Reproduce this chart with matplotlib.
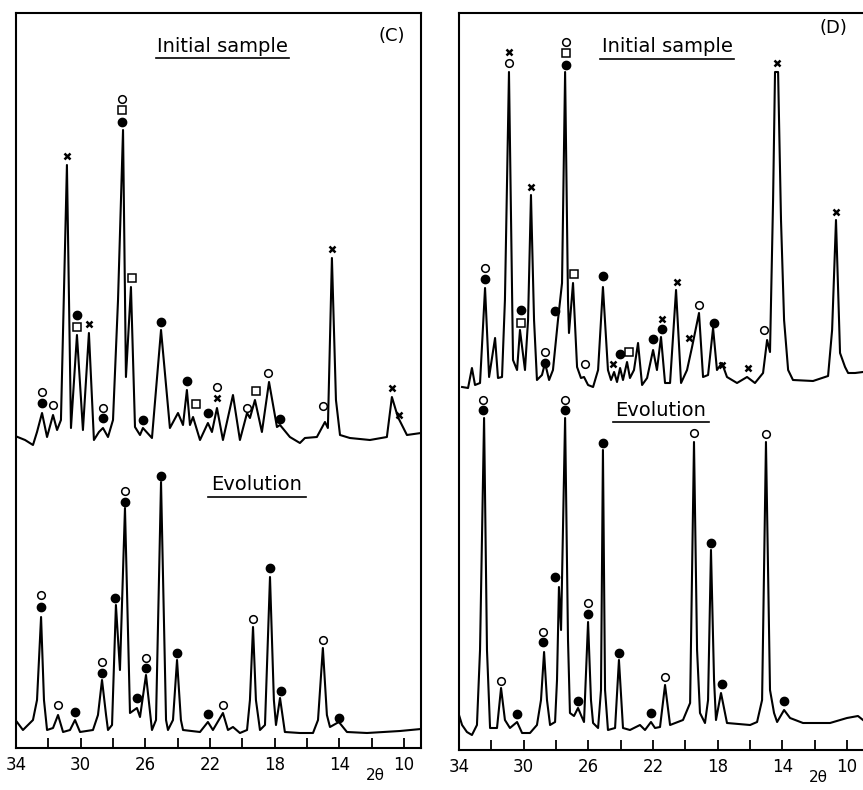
import matplotlib.pyplot as plt
from matplotlib.lines import Line2D

# 2-theta (deg) and intensity (arb. units, height above the frame bottom)

# (C) initial sample
c_init_tt = [33.9, 33.44, 32.95, 32.70, 32.39, 32.08, 31.71, 31.46, 31.22, 30.85, 30.60, 30.23,
             29.86, 29.49, 29.18, 28.87, 28.62, 28.31, 28.00, 27.69, 27.38, 27.20, 26.89, 26.64,
             26.33, 26.15, 25.59, 25.03, 24.48, 23.98, 23.67, 23.43, 23.24, 23.05, 22.62, 22.13,
             21.88, 21.57, 21.20, 20.58, 20.15, 19.71, 19.53, 19.22, 18.79, 18.35, 17.86, 17.67,
             17.06, 16.44, 16.13, 15.39, 14.89, 14.71, 14.46, 14.21, 13.96, 13.35, 12.11, 11.06,
             10.75, 10.38, 9.82, 8.95]
c_init_i = [311, 308, 303, 316, 335, 311, 333, 318, 328, 583, 320, 413,
            318, 415, 308, 316, 320, 311, 328, 448, 618, 371, 461, 321,
            313, 320, 310, 418, 320, 335, 323, 358, 323, 331, 308, 325,
            316, 340, 308, 353, 308, 335, 330, 348, 316, 366, 321, 323,
            311, 305, 310, 311, 326, 320, 490, 348, 313, 310, 308, 311,
            351, 331, 313, 315]
c_init_filled = [(32.39, 345), (30.23, 433), (28.62, 330), (27.45, 626), (26.15, 328), (25.03, 426),
                 (23.43, 367), (22.13, 335), (17.67, 329)]
c_init_open = [(32.39, 356), (31.71, 343), (28.62, 340), (27.45, 649), (21.57, 361), (19.71, 340),
               (18.42, 375), (15.02, 342)]
c_init_square = [(30.23, 421), (27.45, 638), (26.83, 470), (22.87, 344), (19.16, 357)]
c_init_cross = [(30.85, 592), (29.49, 424), (21.57, 350), (14.46, 499), (10.75, 360), (10.32, 333)]

# (C) evolution
c_evol_tt = [33.94, 33.57, 32.95, 32.70, 32.45, 32.27, 32.08, 31.71, 31.40, 31.09, 30.66, 30.35,
             30.04, 29.24, 28.93, 28.68, 28.43, 28.31, 28.06, 27.82, 27.57, 27.26, 26.95, 26.52,
             26.33, 25.96, 25.59, 25.34, 25.03, 24.72, 24.60, 24.29, 24.04, 23.80, 23.67, 22.62,
             22.13, 21.82, 21.20, 20.89, 20.58, 20.15, 19.71, 19.53, 19.34, 19.16, 18.91, 18.60,
             18.29, 18.05, 17.92, 17.67, 17.37, 16.44, 15.63, 15.32, 15.02, 14.77, 14.58, 14.03,
             13.53, 12.29, 10.25, 8.95]
c_evol_i = [26, 18, 28, 48, 131, 48, 18, 20, 33, 16, 18, 28,
            16, 18, 33, 68, 33, 18, 23, 143, 78, 240, 35, 40,
            31, 73, 18, 28, 266, 28, 18, 28, 88, 28, 18, 16,
            26, 18, 35, 18, 21, 15, 18, 48, 121, 48, 18, 23,
            171, 48, 23, 50, 16, 15, 15, 28, 100, 33, 21, 26,
            16, 15, 17, 19]
c_evol_filled = [(32.45, 141), (30.35, 36), (28.68, 75), (27.88, 150), (27.26, 246), (26.52, 50),
                 (25.96, 80), (25.03, 272), (24.04, 95), (22.13, 34), (18.29, 180), (17.61, 57),
                 (14.03, 30)]
c_evol_open = [(32.45, 153), (31.40, 43), (28.68, 86), (27.26, 257), (25.96, 90), (21.20, 43),
               (19.34, 129), (15.02, 108)]

# (D) initial sample
d_init_tt = [33.81, 33.44, 33.20, 33.01, 32.70, 32.39, 32.14, 31.77, 31.59, 31.34, 31.16, 30.91,
             30.66, 30.41, 30.23, 29.92, 29.73, 29.55, 29.36, 29.18, 28.87, 28.68, 28.43, 28.19,
             27.88, 27.63, 27.44, 27.26, 27.20, 26.95, 26.70, 26.46, 26.27, 26.02, 25.71, 25.40,
             25.10, 24.79, 24.60, 24.41, 24.23, 24.04, 23.86, 23.61, 23.43, 23.18, 22.93, 22.68,
             22.37, 22.00, 21.76, 21.51, 21.26, 20.95, 20.58, 20.27, 19.90, 19.59, 19.16, 18.91,
             18.60, 18.29, 18.05, 17.74, 17.43, 16.81, 16.19, 15.70, 15.20, 14.95, 14.77, 14.58,
             14.46, 14.27, 14.09, 13.90, 13.65, 13.35, 12.11, 11.18, 10.93, 10.69, 10.44, 10.13,
             9.94, 9.51, 9.02]
d_init_i = [363, 362, 382, 365, 367, 462, 373, 412, 372, 373, 450, 678,
            390, 380, 420, 380, 430, 555, 430, 370, 375, 387, 370, 380,
            430, 467, 678, 450, 417, 467, 383, 372, 373, 365, 363, 380,
            463, 380, 370, 378, 368, 382, 370, 388, 372, 380, 407, 365,
            372, 400, 380, 413, 367, 367, 460, 367, 380, 403, 437, 373,
            375, 422, 380, 387, 373, 367, 373, 367, 377, 410, 398, 550,
            678, 678, 530, 430, 380, 370, 369, 374, 420, 530, 397, 383,
            377, 377, 378]
d_init_filled = [(32.39, 471), (30.17, 440), (28.68, 387), (28.06, 439), (27.38, 685), (25.10, 474),
                 (24.04, 396), (22.00, 411), (21.45, 421), (18.23, 427)]
d_init_open = [(32.39, 482), (30.91, 687), (28.68, 398), (27.38, 708), (26.21, 386), (19.16, 445),
               (15.14, 420)]
d_init_square = [(30.17, 427), (27.38, 697), (26.89, 476), (23.49, 398)]
d_init_cross = [(30.91, 698), (29.55, 563), (24.48, 386), (21.45, 431), (20.52, 468), (19.78, 412),
                (17.74, 385), (16.13, 382), (14.33, 687), (10.69, 538)]

# (D) evolution
d_evol_tt = [34.0, 33.81, 33.51, 33.20, 32.89, 32.70, 32.45, 32.27, 32.08, 31.65, 31.40, 31.16,
             30.85, 30.41, 30.10, 29.61, 29.18, 28.93, 28.74, 28.56, 28.37, 28.06, 27.94, 27.82,
             27.69, 27.44, 27.26, 27.14, 26.89, 26.64, 26.46, 26.27, 26.02, 25.84, 25.71, 25.40,
             25.22, 25.10, 24.97, 24.79, 24.35, 24.11, 23.86, 23.43, 22.81, 22.50, 22.13, 21.88,
             21.57, 21.26, 20.95, 20.15, 19.71, 19.47, 19.28, 19.10, 18.79, 18.60, 18.42, 18.23,
             18.11, 17.80, 17.43, 16.00, 15.57, 15.26, 15.02, 14.77, 14.52, 14.33, 13.90, 13.53,
             12.73, 11.06, 10.01, 9.33, 9.02]
d_evol_i = [35, 25, 18, 15, 25, 100, 332, 100, 22, 22, 62, 30,
            22, 28, 17, 17, 25, 50, 98, 50, 25, 28, 70, 163,
            120, 332, 110, 37, 34, 42, 35, 28, 128, 50, 27, 22,
            60, 300, 60, 20, 22, 90, 22, 20, 25, 20, 28, 22,
            23, 65, 25, 30, 47, 308, 100, 37, 27, 50, 200, 70,
            30, 57, 27, 25, 28, 50, 308, 60, 37, 28, 40, 32,
            27, 27, 32, 34, 30]
d_evol_filled = [(32.52, 340), (30.41, 36), (28.81, 108), (28.06, 173), (27.44, 340), (26.64, 49),
                 (26.02, 136), (25.10, 307), (24.11, 97), (22.13, 37), (18.42, 207), (17.74, 66),
                 (13.90, 49)]
d_evol_open = [(32.52, 350), (31.40, 69), (28.81, 118), (27.44, 350), (26.02, 147), (21.26, 73),
               (19.47, 317), (15.02, 316)]

major_ticks = [34, 30, 26, 22, 18, 14, 10]
minor_ticks = [32, 28, 24, 20, 16, 12]


def draw_marks(ax, pts, kind):
    tt = [p[0] for p in pts]
    ii = [p[1] for p in pts]
    if kind == 'filled':
        ax.plot(tt, ii, 'o', ms=6, mfc='black', mec='black', ls='none', zorder=4)
    elif kind == 'open':
        ax.plot(tt, ii, 'o', ms=5.5, mfc='white', mec='black', mew=1.1, ls='none', zorder=4)
    elif kind == 'square':
        ax.plot(tt, ii, 's', ms=5.5, mfc='white', mec='black', mew=1.1, ls='none', zorder=4)
    else:
        ax.plot(tt, ii, 'x', ms=4.5, mec='black', mew=1.8, ls='none', zorder=4)


def underlined(ax, x, y, s, width):
    ax.text(x, y, s, transform=ax.transAxes, ha='center', va='center', fontsize=14)
    ax.add_line(Line2D([x - width / 2, x + width / 2], [y - 0.016, y - 0.016],
                       transform=ax.transAxes, color='black', lw=1.2))


def setup_panel(ax, xlim, ylim):
    ax.set_xlim(xlim)
    ax.set_ylim(ylim)
    ax.set_xticks(major_ticks)
    ax.set_xticks(minor_ticks, minor=True)
    ax.set_yticks([])
    ax.tick_params(axis='x', which='both', direction='in', length=7, width=1.3,
                   labelsize=12, pad=6)
    for sp in ax.spines.values():
        sp.set_linewidth(1.5)
    ax.text(11.8, -0.037, '2θ', transform=ax.get_xaxis_transform(), ha='center',
            va='center', fontsize=11)


fig = plt.figure(figsize=(8.63, 7.90), dpi=100)

ax_c = fig.add_axes([16 / 863, 42 / 790, 405 / 863, 735 / 790])
ax_c.plot(c_init_tt, c_init_i, color='black', lw=1.5)
ax_c.plot(c_evol_tt, c_evol_i, color='black', lw=1.5)
for pts, kind in [(c_init_filled, 'filled'), (c_init_open, 'open'), (c_init_square, 'square'),
                  (c_init_cross, 'cross'), (c_evol_filled, 'filled'), (c_evol_open, 'open')]:
    draw_marks(ax_c, pts, kind)
setup_panel(ax_c, (34, 8.95), (0, 735))
underlined(ax_c, 0.51, 0.955, 'Initial sample', 0.33)
underlined(ax_c, 0.595, 0.358, 'Evolution', 0.24)
ax_c.text(0.928, 0.969, '(C)', transform=ax_c.transAxes, ha='center', va='center', fontsize=13)

ax_d = fig.add_axes([459 / 863, 40 / 790, 404 / 863, 737 / 790])
ax_d.plot(d_init_tt, d_init_i, color='black', lw=1.5)
ax_d.plot(d_evol_tt, d_evol_i, color='black', lw=1.5)
for pts, kind in [(d_init_filled, 'filled'), (d_init_open, 'open'), (d_init_square, 'square'),
                  (d_init_cross, 'cross'), (d_evol_filled, 'filled'), (d_evol_open, 'open')]:
    draw_marks(ax_d, pts, kind)
setup_panel(ax_d, (34, 9.02), (0, 737))
ax_d.spines['right'].set_visible(False)
underlined(ax_d, 0.515, 0.954, 'Initial sample', 0.33)
underlined(ax_d, 0.50, 0.461, 'Evolution', 0.24)
ax_d.text(0.926, 0.980, '(D)', transform=ax_d.transAxes, ha='center', va='center', fontsize=13)

fig.savefig('out.png', dpi=100)
